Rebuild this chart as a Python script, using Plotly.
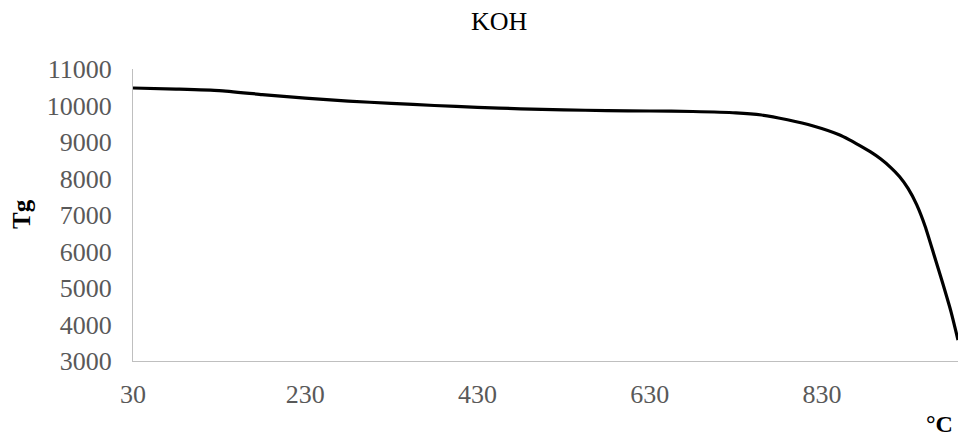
import plotly.graph_objects as go

# Thermogravimetric curve for KOH: temperature (°C) vs Tg
temperature = [30, 80, 130, 180, 230, 280, 330, 380, 430, 480, 530, 580, 630,
               680, 730, 760, 790, 820, 850, 862, 874, 886, 898, 910, 920,
               930, 940, 950, 960, 970, 980, 988]
tg_values = [10480, 10450, 10410, 10300, 10200, 10120, 10060, 10000, 9950,
             9910, 9880, 9860, 9850, 9835, 9800, 9740, 9610, 9440, 9200,
             9060, 8900, 8735, 8540, 8300, 8055, 7730, 7285, 6680, 5920,
             5150, 4340, 3575]
x_ticks = [30, 230, 430, 630, 830]
y_ticks = [3000, 4000, 5000, 6000, 7000, 8000, 9000, 10000, 11000]

W, H = 958, 436
L, R, T, B = 133, 0, 69, 75
plot_w = W - L - R
plot_h = H - T - B


def px_to_paper(px, py):
    return (px - L) / plot_w, (H - B - py) / plot_h


serif = "Liberation Serif, Times New Roman, serif"

fig = go.Figure()
fig.add_trace(go.Scatter(
    x=temperature, y=tg_values, mode="lines",
    line=dict(color="#000000", width=3.2, shape="spline", smoothing=0.5),
    showlegend=False, hoverinfo="x+y",
))

axis_common = dict(
    showgrid=False, zeroline=False, showline=True,
    linecolor="#BFBFBF", linewidth=1, ticks="",
    tickfont=dict(family=serif, size=26, color="#595959"),
)

fig.update_xaxes(range=[30, 988], tickvals=x_ticks,
                 ticktext=[str(v) for v in x_ticks],
                 ticklabelstandoff=10, **axis_common)
fig.update_yaxes(range=[3000, 11000], tickvals=y_ticks,
                 ticktext=[str(v) for v in y_ticks],
                 ticklabelstandoff=15, **axis_common)

tx, ty = px_to_paper(499, 22)
gx, gy = px_to_paper(21, 214)
cx, cy = px_to_paper(939, 424)

fig.update_layout(
    width=W, height=H,
    margin=dict(l=L, r=R, t=T, b=B, pad=0),
    paper_bgcolor="#FFFFFF", plot_bgcolor="#FFFFFF",
    annotations=[
        dict(text="KOH", x=tx, y=ty, xref="paper", yref="paper",
             showarrow=False, xanchor="center", yanchor="middle",
             font=dict(family=serif, size=26, color="#000000")),
        dict(text="<b>Tg</b>", x=gx, y=gy, xref="paper", yref="paper",
             showarrow=False, xanchor="center", yanchor="middle",
             textangle=-90,
             font=dict(family=serif, size=25, color="#000000")),
        dict(text="<b>°C</b>", x=cx, y=cy, xref="paper", yref="paper",
             showarrow=False, xanchor="center", yanchor="middle",
             font=dict(family=serif, size=24, color="#000000")),
    ],
)

fig.write_html("out.html")
